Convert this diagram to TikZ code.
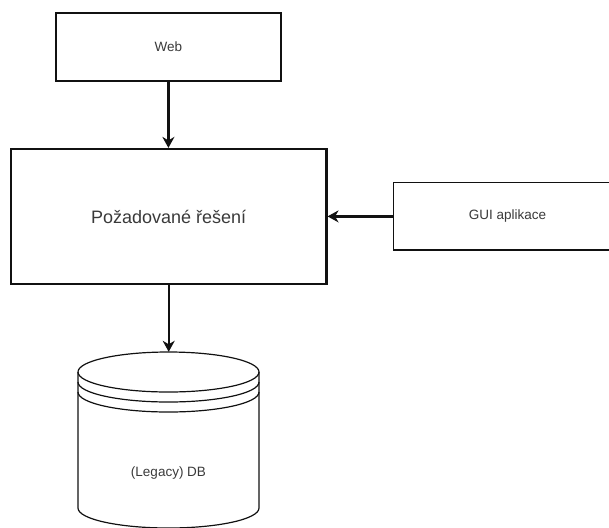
\documentclass[tikz,border=0pt]{standalone}
\usepackage{fontspec}
\setmainfont{Liberation Sans}
\usetikzlibrary{arrows.meta}
\definecolor{linec}{HTML}{111111}
\definecolor{textc}{HTML}{3A3A3A}
\begin{document}
\begin{tikzpicture}[x=1pt,y=-1pt,
  box/.style={draw=linec, line width=1.2pt, fill=white, inner sep=0pt, text=textc, font=\fontsize{13.5}{16}\selectfont},
  mainbox/.style={box, line width=2.2pt, font=\fontsize{18}{21}\selectfont},
  arr/.style={draw=linec, line width=2.2pt, -{Stealth[length=11pt,width=12pt,inset=3.5pt]}},
  cyl/.style={draw=linec, line width=1.2pt}
]
\useasboundingbox (0,0) rectangle (609,527);
\clip (0,0) rectangle (609,527);

\node[box, minimum width=225pt, minimum height=68pt] (web) at (168.4,47) {Web};
\node[mainbox, minimum width=315.5pt, minimum height=135pt] (main) at (168.7,216.5) {Požadované řešení};
\node[box, minimum width=228pt, minimum height=67.3pt] (gui) at (507.5,216.4) {GUI aplikace};

% datastore
\node[inner sep=0pt, minimum width=181pt, minimum height=177pt] (db) at (168.5,440.5) {};
\draw[cyl] (78,372) -- (78,508) arc[start angle=180, end angle=0, x radius=90.5, y radius=20] -- (259,372);
\draw[cyl] (168.5,372) ellipse [x radius=90.5, y radius=20];
\draw[cyl] (78,382) arc[start angle=180, end angle=0, x radius=90.5, y radius=20];
\draw[cyl] (78,392) arc[start angle=180, end angle=0, x radius=90.5, y radius=20];
\node[text=textc, font=\fontsize{13.5}{16}\selectfont] (dblabel) at (168.5,473) {(Legacy) DB};

\draw[arr] (web.south) -- (main.north -| web.south);
\draw[arr] (gui.west) -- (main.east |- gui.west);
\draw[arr] (main.south) -- (main.south |- db.north);
\end{tikzpicture}
\end{document}
